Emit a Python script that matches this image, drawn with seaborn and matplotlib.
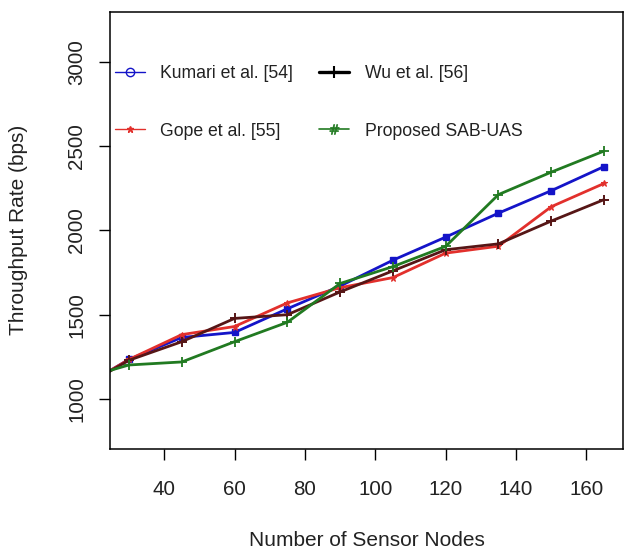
import matplotlib
matplotlib.use("Agg")
import matplotlib.pyplot as plt
from matplotlib.lines import Line2D
import seaborn as sns
import pandas as pd

# ---- data ----
nodes = [15, 30, 45, 60, 75, 90, 105, 120, 135, 150, 165]
kumari = [1050, 1235, 1365, 1395, 1535, 1670, 1823, 1960, 2102, 2235, 2378]
gope = [1050, 1235, 1382, 1430, 1570, 1660, 1720, 1865, 1906, 2140, 2278]
wu = [1050, 1230, 1340, 1478, 1500, 1635, 1760, 1885, 1920, 2055, 2182]
proposed = [1112, 1202, 1220, 1340, 1455, 1685, 1785, 1905, 2212, 2345, 2470]
labels = ["Kumari et al. [54]", "Gope et al. [55]", "Wu et al. [56]", "Proposed SAB-UAS"]
x_ticks = [40, 60, 80, 100, 120, 140, 160]
y_ticks = [1000, 1500, 2000, 2500, 3000]

sns.set_style("white")
plt.rcParams["font.family"] = ["Liberation Sans", "DejaVu Sans"]

colors = {"kumari": "#1414c8", "gope": "#e2302c", "wu": "#561616", "proposed": "#217a21"}

fig = plt.figure(figsize=(6.24, 5.5), dpi=100)
ax = fig.add_axes([110 / 624, 101 / 550, 513 / 624, 437.3 / 550])

series = [
    (kumari, colors["kumari"], "s", 4.5, 1.0),
    (gope, colors["gope"], "*", 5, 0.8),
    (wu, colors["wu"], "+", 7.5, 1.4),
    (proposed, colors["proposed"], "+", 7.5, 1.3),
]
for vals, c, m, ms, mew in series:
    df = pd.DataFrame({"x": nodes, "y": vals})
    sns.lineplot(data=df, x="x", y="y", ax=ax, color=c, linewidth=2.0,
                 marker=m, markersize=ms, markeredgewidth=mew,
                 markeredgecolor=c, markerfacecolor=c, legend=False)

ax.set_xlim(24.6, 170.4)
ax.set_ylim(704, 3296)
ax.set_xticks(x_ticks)
ax.set_yticks(y_ticks)
ax.set_xticklabels([str(v) for v in x_ticks])
ax.set_yticklabels([str(v) for v in y_ticks], rotation=90, va="center")

for s in ax.spines.values():
    s.set_visible(True)
    s.set_color("black")
    s.set_linewidth(1.1)

ax.tick_params(axis="both", which="major", direction="out", length=8, width=1.0,
               color="black", bottom=True, left=True, top=False, right=False,
               labelsize=14.8, labelcolor="#222222")
ax.tick_params(axis="x", pad=14)
ax.tick_params(axis="y", pad=9)

ax.set_xlabel("Number of Sensor Nodes", fontsize=15, color="#222222")
ax.set_ylabel("Throughput Rate (bps)", fontsize=15, color="#222222")
ax.xaxis.label.set_va("center")
ax.xaxis.set_label_coords(0.5, -0.21)
ax.yaxis.label.set_va("center")
ax.yaxis.set_label_coords(-0.178, 0.5)

handles = [
    Line2D([], [], color=colors["kumari"], lw=1.0, marker="o", markersize=6,
           markerfacecolor="none", markeredgecolor=colors["kumari"]),
    Line2D([], [], color=colors["gope"], lw=1.0, marker="*", markersize=4.5,
           markeredgecolor=colors["gope"], markerfacecolor=colors["gope"]),
    Line2D([], [], color="black", lw=2.4, marker="+", markersize=8, markeredgewidth=1.5),
    Line2D([], [], color=colors["proposed"], lw=1.2, marker="$\\#$", markersize=7,
           markeredgewidth=0.5),
]
leg = ax.legend(handles, [labels[0], labels[1], labels[2], labels[3]], ncol=2,
                loc="upper left", bbox_to_anchor=(0.009, 0.878), frameon=False,
                fontsize=12.7, handlelength=1.7, handletextpad=0.9,
                columnspacing=1.45, labelspacing=2.3, borderpad=0, borderaxespad=0)
for t in leg.get_texts():
    t.set_color("#222222")

fig.savefig("out.png", dpi=100)
